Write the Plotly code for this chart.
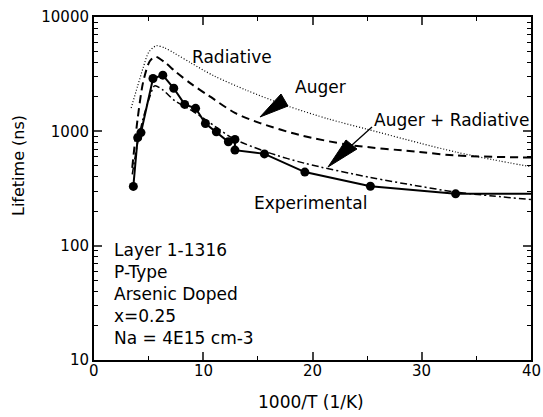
import plotly.graph_objects as go

# ---------------- data ----------------
exp_x = [3.6, 4.0, 4.3, 5.4, 6.3, 7.3, 8.3, 9.3, 10.2, 11.2, 12.3, 12.9, 12.9, 15.6, 19.3, 25.3, 33.1, 40.0]
exp_y = [330, 880, 975, 2900, 3100, 2380, 1720, 1590, 1170, 990, 810, 850, 685, 635, 440, 331, 284, 284]
exp_marker = [True] * 17 + [False]

rad_x = [3.4, 4.0, 4.5, 5.0, 5.7, 6.5, 7.4, 8.9, 11.0, 13.9, 17.6, 21.5, 24.9, 29.8, 33.1, 36.5, 40.0]
rad_y = [1600, 2500, 3600, 4900, 5600, 5350, 4800, 3950, 3050, 2300, 1680, 1280, 1050, 790, 660, 565, 490]

aug_x = [3.5, 4.0, 4.5, 5.1, 5.6, 6.5, 7.5, 8.9, 10.5, 12.9, 15.2, 18.8, 23.4, 29.8, 33.1, 40.0]
aug_y = [480, 1300, 2700, 4100, 4500, 4000, 3300, 2600, 2050, 1450, 1180, 930, 760, 660, 615, 589]

ar_x = [3.5, 4.0, 4.5, 5.1, 5.55, 6.3, 7.4, 8.8, 10.4, 12.7, 15.8, 19.3, 25.3, 29.8, 33.0, 36.5, 40.0]
ar_y = [420, 800, 1300, 2000, 2500, 2300, 1850, 1550, 1230, 870, 660, 525, 395, 331, 295, 272, 253]

x_ticks = [0, 10, 20, 30, 40]
x_tick_text = ["0", "10", "20", "30", "40"]
y_ticks = [10, 100, 1000, 10000]
y_tick_text = ["10", "100", "1000", "10000"]

info_lines = ["Layer 1-1316", "P-Type", "Arsenic Doped", "x=0.25", "Na = 4E15 cm-3"]

# ---------------- layout geometry ----------------
W, H = 543, 417
L, R, T, B = 94, 12, 17, 57
PW, PH = W - L - R, H - T - B


def px(xp, yp):
    """pixel position in the page -> paper coordinates"""
    return (xp - L) / PW, (H - B - yp) / PH


FONT = "DejaVu Sans, Arial, sans-serif"

fig = go.Figure()

fig.add_trace(go.Scatter(x=rad_x, y=rad_y, mode="lines", line=dict(color="black", width=1.2, dash="1px,2px", shape="spline", smoothing=0.8), hoverinfo="skip"))
fig.add_trace(go.Scatter(x=aug_x, y=aug_y, mode="lines", line=dict(color="black", width=2, dash="8px,5px", shape="spline", smoothing=0.8), hoverinfo="skip"))
fig.add_trace(go.Scatter(x=ar_x, y=ar_y, mode="lines", line=dict(color="black", width=1.5, dash="7px,3px,2px,3px", shape="spline", smoothing=0.8), hoverinfo="skip"))
fig.add_trace(go.Scatter(
    x=exp_x, y=exp_y, mode="lines+markers",
    line=dict(color="black", width=2),
    marker=dict(color="black", opacity=1, size=[9 if m else 0 for m in exp_marker], line=dict(width=0)),
    hoverinfo="skip"))

annotations = []


def label(text, xp, yp, size=17, xanchor="center", yanchor="middle", **kw):
    x, y = px(xp, yp)
    annotations.append(dict(text=text, x=x, y=y, xref="paper", yref="paper", showarrow=False,
                            xanchor=xanchor, yanchor=yanchor,
                            font=dict(family=FONT, size=size, color="black"), **kw))


label("Radiative", 232, 57)
label("Auger", 320, 87)
label("Auger + Radiative", 451, 120)
label("Experimental", 310, 203)
label("<br>".join(info_lines), 112, 293.5, xanchor="left", align="left")
label("1000/T (1/K)", 311, 402, size=17)
label("Lifetime (ns)", 18, 166, size=16, textangle=-90)

# x tick labels placed just under the axis (as in the reference)
_, tick_y = px(0, 371)
for v, t in zip(x_ticks, x_tick_text):
    annotations.append(dict(text=t, x=v, y=tick_y, xref="x", yref="paper", showarrow=False,
                            xanchor="center", yanchor="middle",
                            font=dict(family=FONT, size=15, color="black")))

shapes = []


def tri(points):
    pts = [px(a, b) for a, b in points]
    path = "M " + " L ".join(f"{a:.5f},{b:.5f}" for a, b in pts) + " Z"
    shapes.append(dict(type="path", path=path, xref="paper", yref="paper", fillcolor="black", line=dict(color="black", width=1)))


def seg(p0, p1):
    a0, b0 = px(*p0)
    a1, b1 = px(*p1)
    shapes.append(dict(type="line", x0=a0, y0=b0, x1=a1, y1=b1, xref="paper", yref="paper", line=dict(color="black", width=1.3)))


# Auger arrow
tri([(260, 117), (281, 94), (288, 106)])
# Auger + Radiative arrow
seg((352, 145), (372, 127))
tri([(328, 167), (346, 140), (357, 149)])

fig.update_layout(
    width=W, height=H,
    margin=dict(l=L, r=R, t=T, b=B, autoexpand=False),
    paper_bgcolor="white", plot_bgcolor="white",
    showlegend=False,
    annotations=annotations,
    shapes=shapes,
    font=dict(family=FONT, size=15, color="black"),
)

fig.update_xaxes(
    range=[0, 40], tickvals=x_ticks, showticklabels=False, ticks="inside", ticklen=8, tickwidth=1.5,
    showline=True, linecolor="black", linewidth=2, mirror="ticks",
    showgrid=False, zeroline=False, automargin=False,
    minor=dict(dtick=5, ticks="inside", ticklen=4, tickwidth=1.2, tickcolor="black", showgrid=False),
)

minor_y = [m * 10 ** e for e in (1, 2, 3) for m in range(2, 10)]
fig.update_yaxes(
    type="log", range=[1, 4], tickvals=y_ticks, ticktext=y_tick_text,
    ticks="inside", ticklen=8, tickwidth=1.5,
    showline=True, linecolor="black", linewidth=2, mirror="ticks",
    showgrid=False, zeroline=False, automargin=False,
    tickfont=dict(family=FONT, size=15, color="black"),
    minor=dict(tickvals=minor_y, ticks="inside", ticklen=4, tickwidth=1.2, tickcolor="black", showgrid=False),
)

fig.write_html("out.html")
